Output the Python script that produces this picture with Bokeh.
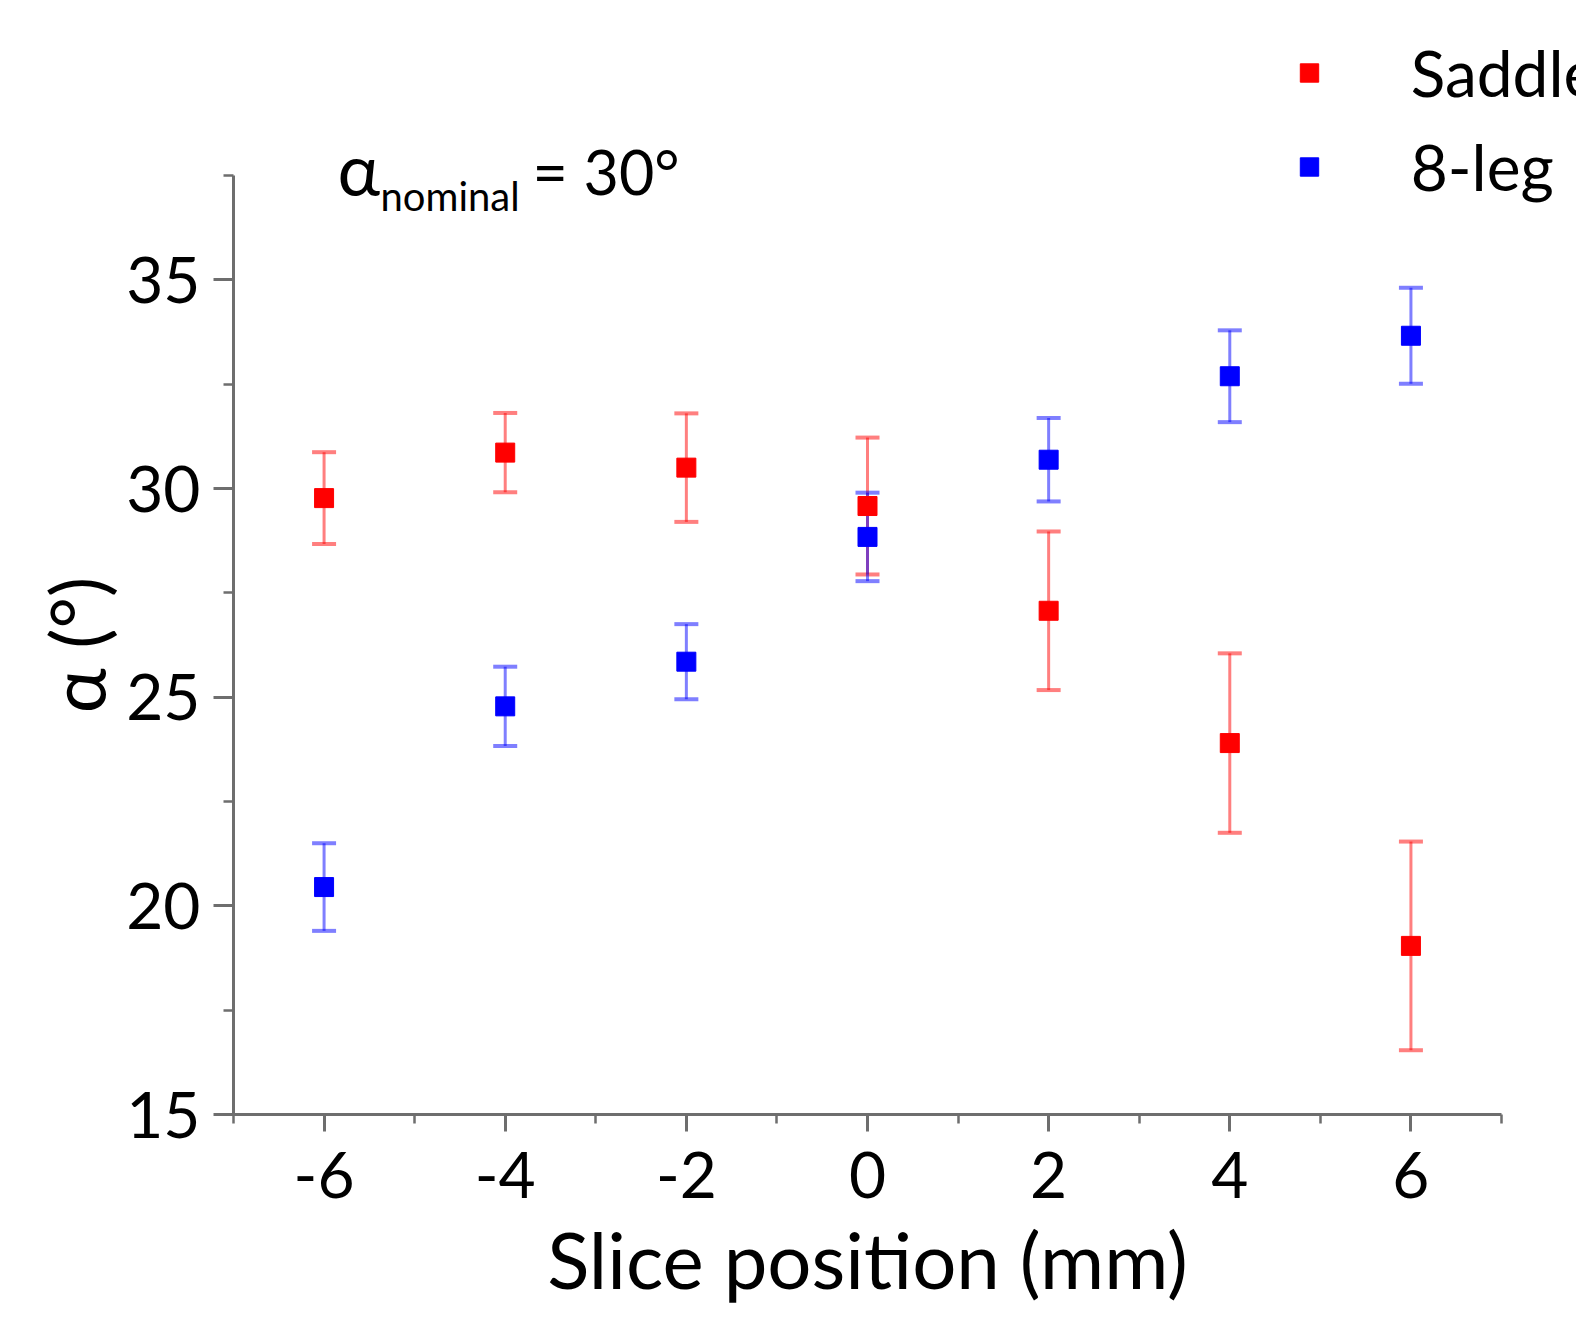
import math
from bokeh.plotting import figure
from bokeh.models import (Range1d, SingleIntervalTicker, Whisker, TeeHead, ColumnDataSource,
                          Legend, LegendItem, Label, CustomJSTickFormatter)
from bokeh.embed import file_html
from bokeh.resources import INLINE

# ---- data ----
positions = [-6, -4, -2, 0, 2, 4, 6]
saddle_alpha = [29.77, 30.86, 30.50, 29.58, 27.07, 23.90, 19.04]
saddle_err = [1.10, 0.95, 1.30, 1.64, 1.90, 2.15, 2.50]
eightleg_alpha = [20.45, 24.78, 25.85, 28.84, 30.69, 32.69, 33.66]
eightleg_err = [1.05, 0.95, 0.90, 1.06, 1.00, 1.10, 1.15]
series_names = ["Saddle", "8-leg"]
x_label = "Slice position (mm)"
y_label = "α (°)"
x_bounds = (-7, 7)
y_bounds = (15, 37.5)
FONT = "Lato"

# ---- layout (pixels of the canvas) ----
W, H = 1576, 1304
AX_LEFT, AX_RIGHT = 233, 1501     # x = -7 .. 7
AX_TOP, AX_BOTTOM = 175, 1114     # y = 37.5 .. 15
xppu = (AX_RIGHT - AX_LEFT) / (x_bounds[1] - x_bounds[0])
yppu = (AX_BOTTOM - AX_TOP) / (y_bounds[1] - y_bounds[0])

def sx(px):
    return x_bounds[0] + (px - AX_LEFT) / xppu

def sy(py):
    return y_bounds[0] + (AX_BOTTOM - py) / yppu

p = figure(width=W, height=H, output_backend="svg", toolbar_location=None,
           x_range=Range1d(sx(0), sx(W)), y_range=Range1d(sy(H), sy(0)),
           min_border=0)
p.outline_line_color = None
p.xgrid.visible = False
p.ygrid.visible = False
p.background_fill_color = "white"
p.border_fill_color = "white"

p.xaxis.ticker = SingleIntervalTicker(interval=2, num_minor_ticks=2)
p.yaxis.ticker = SingleIntervalTicker(interval=5, num_minor_ticks=2)
p.xaxis.bounds = x_bounds
p.yaxis.bounds = y_bounds
p.xaxis.fixed_location = y_bounds[0]
p.yaxis.fixed_location = x_bounds[0]
fmt = "return tick.toFixed(0);"
p.xaxis.formatter = CustomJSTickFormatter(code=fmt)
p.yaxis.formatter = CustomJSTickFormatter(code=fmt)

for ax in (p.xaxis, p.yaxis):
    ax.axis_line_color = "#6e6e6e"
    ax.axis_line_width = 3
    ax.major_tick_line_color = "#6e6e6e"
    ax.major_tick_line_width = 3
    ax.minor_tick_line_color = "#6e6e6e"
    ax.minor_tick_line_width = 2.5
    ax.major_tick_in = 0
    ax.minor_tick_in = 0
    ax.major_label_text_font = FONT
    ax.major_label_text_font_size = "64px"
    ax.major_label_text_color = "black"

p.xaxis.major_tick_out = 17
p.xaxis.minor_tick_out = 9
p.yaxis.major_tick_out = 20
p.yaxis.minor_tick_out = 10
p.xaxis.major_label_standoff = 20
p.yaxis.major_label_standoff = 13

renderers = []
for vals, errs, color in ((saddle_alpha, saddle_err, "#ff0000"),
                          (eightleg_alpha, eightleg_err, "#0000ff")):
    src = ColumnDataSource(dict(
        x=positions, y=vals,
        upper=[v + e for v, e in zip(vals, errs)],
        lower=[v - e for v, e in zip(vals, errs)]))
    w = Whisker(base="x", upper="upper", lower="lower", source=src,
                line_color=color, line_alpha=0.5, line_width=3,
                upper_head=TeeHead(size=24, line_color=color, line_alpha=0.5, line_width=4),
                lower_head=TeeHead(size=24, line_color=color, line_alpha=0.5, line_width=4))
    w.level = "underlay"
    p.add_layout(w)
    r = p.scatter("x", "y", source=src, marker="square", size=19,
                  fill_color=color, line_color=color, line_width=1)
    renderers.append(r)

legend = Legend(items=[LegendItem(label=series_names[0], renderers=[renderers[0]]),
                       LegendItem(label=series_names[1], renderers=[renderers[1]])],
                location=(1285.7, H - 205), orientation="vertical",
                glyph_width=46, glyph_height=75, label_height=75, label_width=10,
                label_standoff=79, spacing=17, padding=0, margin=0,
                border_line_color=None, background_fill_alpha=0,
                label_text_font=FONT, label_text_font_size="64px", label_text_color="black")
p.add_layout(legend, "center")

# axis titles
p.add_layout(Label(x=sum(x_bounds) / 2, y=sy(1258), text=x_label, text_font=FONT,
                   text_font_size="78px", text_color="black",
                   text_align="center", text_baseline="middle"))
p.add_layout(Label(x=sx(76), y=sum(y_bounds) / 2, text=y_label, text_font=FONT,
                   text_font_size="76px", text_color="black", angle=math.pi / 2,
                   text_align="center", text_baseline="middle"))

# annotation alpha_nominal = 30°
p.add_layout(Label(x=sx(337), y=sy(167.5), text="α", text_font=FONT,
                   text_font_size="72px", text_color="black", text_baseline="middle"))
p.add_layout(Label(x=sx(380), y=sy(195), text="nominal", text_font=FONT,
                   text_font_size="40px", text_color="black", text_baseline="middle"))
p.add_layout(Label(x=sx(532), y=sy(170.5), text="= 30°", text_font=FONT,
                   text_font_size="61px", text_color="black", text_baseline="middle"))

open("out.html", "w").write(file_html(p, INLINE))
